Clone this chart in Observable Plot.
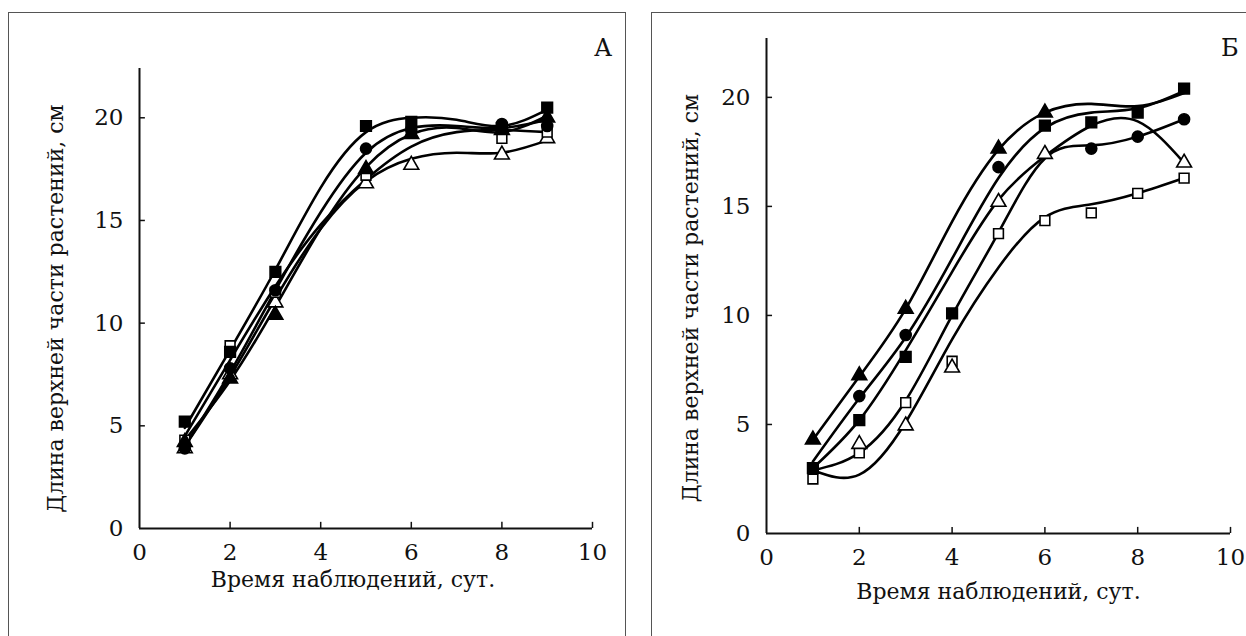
<!DOCTYPE html>
<html><head><meta charset="utf-8">
<script src="https://cdn.jsdelivr.net/npm/d3@7"></script>
<script src="https://cdn.jsdelivr.net/npm/@observablehq/plot@0.6"></script>
<style>
body{margin:0;width:1246px;height:636px;overflow:hidden;background:#fff;position:relative;font-family:"DejaVu Serif",serif;}
.frame{position:absolute;border:1px solid #555;box-sizing:border-box;}
.plot{position:absolute;top:0;}
.letter{position:absolute;font-size:24px;color:#111;line-height:1;}
</style></head><body>
<div class="frame" style="left:8px;top:12px;width:618px;height:640px"></div>
<div class="frame" style="left:651px;top:12px;width:610px;height:640px"></div>
<div id="a" class="plot" style="left:20px"></div>
<div id="b" class="plot" style="left:660px"></div>
<div class="letter" style="left:594px;top:36px">А</div>
<div class="letter" style="left:1221px;top:36px">Б</div>
<script>
// ---- shared ----
const days = [1, 2, 3, 4, 5, 6, 7, 8, 9];
const xTicks = [0, 2, 4, 6, 8, 10];
const yTicks = [0, 5, 10, 15, 20];
const xTitle = "Время наблюдений, сут.";
const yTitle = "Длина верхней части растений, см";

// ---- Panel А: observed points ----
const daysA = [1, 2, 3, 5, 6, 8, 9];
const aFilledSquare   = [5.2, 8.6, 12.5, 19.6, 19.8, 19.5, 20.5];
const aFilledCircle   = [3.9, 7.8, 11.6, 18.5, 19.4, 19.7, 19.6];
const aFilledTriangle = [4.2, 7.3, 10.4, 17.5, 19.2, 19.4, 20.0];
const aOpenSquare     = [4.3, 8.9, 11.5, 17.2, 19.3, 19.0, 19.3];
const aOpenTriangle   = [3.9, 7.5, 11.0, 16.8, 17.7, 18.2, 19.0];
// Panel А: fitted trend curves (values read at days 1..9)
const aFit1 = [4.9, 8.7, 12.6, 16.6, 19.3, 20.0, 19.9, 19.6, 20.4];
const aFit2 = [4.0, 7.6, 11.6, 15.4, 18.3, 19.5, 19.6, 19.5, 19.9];
const aFit3 = [4.3, 7.2, 10.8, 14.6, 17.6, 19.2, 19.5, 19.3, 20.1];
const aFit4 = [4.5, 8.2, 11.8, 14.8, 17.0, 18.6, 19.3, 19.4, 19.3];
const aFit5 = [4.0, 7.4, 11.2, 14.6, 16.9, 18.0, 18.3, 18.3, 18.9];

// ---- Panel Б: observed points ----
const bFilledTriangleDays = [1, 2, 3, 5, 6];
const bFilledTriangle     = [4.3, 7.25, 10.3, 17.65, 19.3];
const bFilledCircleDays   = [2, 3, 5, 7, 8, 9];
const bFilledCircle       = [6.3, 9.1, 16.8, 17.65, 18.2, 19.0];
const bFilledSquareDays   = [1, 2, 3, 4, 6, 7, 8, 9];
const bFilledSquare       = [3.0, 5.2, 8.1, 10.1, 18.7, 18.85, 19.3, 20.4];
const bOpenTriangleDays   = [2, 3, 4, 5, 6, 9];
const bOpenTriangle       = [4.1, 4.95, 7.6, 15.2, 17.4, 17.0];
const bOpenSquareDays     = [1, 2, 3, 4, 5, 6, 7, 8, 9];
const bOpenSquare         = [2.5, 3.7, 6.0, 7.9, 13.75, 14.35, 14.7, 15.6, 16.3];
// Panel Б: fitted trend curves (values read at days 1..9)
const bFit1 = [4.3, 7.2, 10.3, 14.3, 17.6, 19.3, 19.7, 19.6, 20.2];
const bFit2 = [3.3, 6.2, 9.0, 12.6, 16.3, 18.6, 19.3, 19.5, 20.3];
const bFit3 = [3.0, 5.2, 8.4, 12.0, 15.3, 17.3, 18.7, 18.9, 17.0];
const bFit4 = [2.9, 3.7, 6.1, 10.0, 13.8, 17.2, 17.8, 18.2, 19.0];
const bFit5 = [2.9, 2.7, 5.1, 8.9, 12.2, 14.5, 15.1, 15.6, 16.3];

const ink = "#111";
const serif = "'DejaVu Serif', serif";

function panel(o) {
  const fitRows = o.fits.flatMap((vals, k) => vals.map((v, i) => ({day: days[i], v, k})));
  const dotMarks = o.series.map(s =>
    Plot.dot(s.days.map((d, i) => ({day: d, v: s.values[i]})), {
      x: "day", y: "v", symbol: s.symbol, r: s.r,
      fill: s.filled ? "#000" : "#fff", stroke: "#000", strokeWidth: 1.6
    })
  );
  const svg = Plot.plot({
    width: o.width, height: 636,
    marginLeft: o.ml, marginRight: o.mr, marginTop: o.mt, marginBottom: o.mb,
    x: {domain: [0, 10]},
    y: {domain: [0, o.yMax]},
    marks: [
      Plot.line(fitRows, {x: "day", y: "v", z: "k", curve: "natural", stroke: "#000", strokeWidth: 2.6}),
      ...dotMarks,
      Plot.ruleY([0], {x1: 0, x2: 10, stroke: ink, strokeWidth: 2}),
      Plot.ruleX([0], {y1: 0, y2: o.yMax, stroke: ink, strokeWidth: 2}),
      Plot.ruleX(xTicks.slice(1), {x: d => d, y1: 0, y2: o.tickX, stroke: ink, strokeWidth: 1.5}),
      Plot.ruleY(yTicks.slice(1), {y: d => d, x1: 0, x2: o.tickY, stroke: ink, strokeWidth: 1.5}),
      Plot.axisX({ticks: xTicks, tickSize: 0, tickPadding: 15, fontSize: 23, fontFamily: serif, fill: ink, label: null}),
      Plot.axisY({ticks: yTicks, tickSize: 0, tickPadding: 16, fontSize: 23, fontFamily: serif, fill: ink, label: null}),
      Plot.text([xTitle], {frameAnchor: "bottom", textAnchor: "middle", dx: o.xtDx, dy: o.xtDy, fontSize: 22, fontFamily: serif, fill: ink}),
      Plot.text([yTitle], {frameAnchor: "left", textAnchor: "middle", rotate: -90, dx: o.ytDx, dy: o.ytDy, fontSize: 22, fontFamily: serif, fill: ink})
    ]
  });
  svg.style.background = "transparent";
  svg.style.fontFamily = serif;
  svg.querySelectorAll("text").forEach(t => t.style.fontFamily = serif);
  return svg;
}

const chartA = panel({
  width: 600, ml: 119, mr: 28, mt: 68, mb: 108, yMax: 22.4,
  tickX: 0.3, tickY: 0.13,
  xtDx: -13, xtDy: 58, ytDx: -84, ytDy: 10,
  fits: [aFit1, aFit2, aFit3, aFit4, aFit5],
  series: [
    {days: daysA, values: aOpenTriangle, symbol: "triangle", filled: false, r: 5.5},
    {days: daysA, values: aOpenSquare, symbol: "square", filled: false, r: 5.5},
    {days: daysA, values: aFilledTriangle, symbol: "triangle", filled: true, r: 5.5},
    {days: daysA, values: aFilledCircle, symbol: "circle", filled: true, r: 5.5},
    {days: daysA, values: aFilledSquare, symbol: "square", filled: true, r: 6}
  ]
});
document.getElementById("a").append(chartA);

const chartB = panel({
  width: 586, ml: 106, mr: 16, mt: 38, mb: 103, yMax: 22.7,
  tickX: 0.28, tickY: 0.13,
  xtDx: 0, xtDy: 65, ytDx: -76, ytDy: 12,
  fits: [bFit1, bFit2, bFit3, bFit4, bFit5],
  series: [
    {days: bOpenSquareDays, values: bOpenSquare, symbol: "square", filled: false, r: 5.5},
    {days: bOpenTriangleDays, values: bOpenTriangle, symbol: "triangle", filled: false, r: 5.5},
    {days: bFilledCircleDays, values: bFilledCircle, symbol: "circle", filled: true, r: 5.5},
    {days: bFilledSquareDays, values: bFilledSquare, symbol: "square", filled: true, r: 6},
    {days: bFilledTriangleDays, values: bFilledTriangle, symbol: "triangle", filled: true, r: 5.5}
  ]
});
document.getElementById("b").append(chartB);
</script>
</body></html>
